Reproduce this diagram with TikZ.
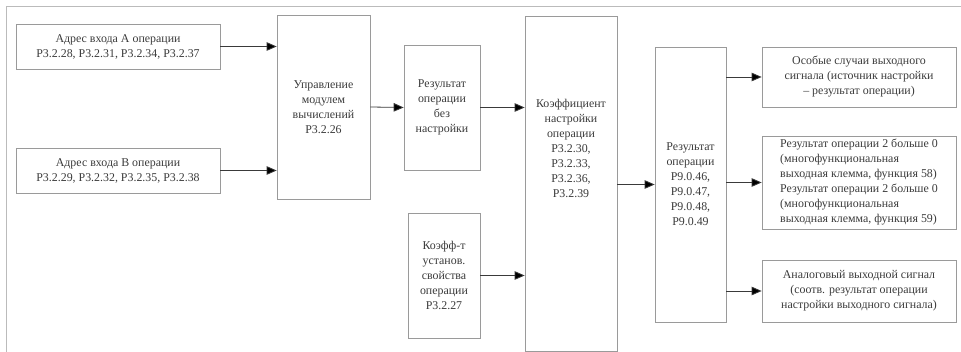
\documentclass[tikz,border=0pt]{standalone}
\usepackage{fontspec}
\setmainfont{Liberation Serif}
\usepackage{xcolor}
\usepackage{tikz}
\usetikzlibrary{arrows.meta,calc}
\definecolor{boxgray}{HTML}{9A9A9A}
\definecolor{framegray}{HTML}{BBBBBB}
\definecolor{inkgray}{HTML}{3A3A3A}

\begin{document}
\begin{tikzpicture}[x=1pt,y=-1pt,
    font=\rmfamily\fontsize{11.9}{15}\selectfont,
    blk/.style={draw=boxgray, line width=0.7pt, inner sep=0pt, align=center, text=inkgray},
    arr/.style={-{Triangle[length=10pt,width=8.5pt,fill=black]}, draw=inkgray, line width=0.8pt}]
        \useasboundingbox (0,0) rectangle (961,352);
        \draw[framegray, line width=0.8pt] (6,352) -- (6,6) -- (961,6);
        % inputs
        \node[blk, minimum width=204, minimum height=45] (inA) at (118,46.5)
            {Адрес входа А операции\\P3.2.28, P3.2.31, P3.2.34, P3.2.37};
        \node[blk, minimum width=204, minimum height=45] (inB) at (118,170.5)
            {Адрес входа В операции\\P3.2.29, P3.2.32, P3.2.35, P3.2.38};
        \node[blk, minimum width=93, minimum height=184] (ctrl) at (323.5,107)
            {Управление\\модулем\\вычислений\\P3.2.26};
        \node[blk, minimum width=76, minimum height=125] (raw) at (442,107.5)
            {Результат\\операции\\без\\настройки};
        \node[blk, minimum width=72, minimum height=125] (prop) at (444,275.5)
            {Коэфф-т\\установ.\\свойства\\операции\\P3.2.27};
        \node[blk, minimum width=92, minimum height=335] (coef) at (571,183.5) {};
        \node[align=center, text=inkgray] at ($(coef.center)+(0,-35)$)
            {Коэффициент\\настройки\\операции\\P3.2.30,\\P3.2.33,\\P3.2.36,\\P3.2.39};
        \node[blk, minimum width=71, minimum height=275] (res) at (690.5,184.5)
            {Результат\\операции\\P9.0.46,\\P9.0.47,\\P9.0.48,\\P9.0.49};
        % outputs
        \node[blk, minimum width=194, minimum height=60] (outA) at (859,77)
            {Особые случаи выходного\\сигнала (источник настройки\\– результат операции)};
        \node[blk, minimum width=194, minimum height=93, align=left] (outB) at (859,182.5)
            {Результат операции 2 больше 0\\(многофункциональная\\выходная клемма, функция 58)\\Результат операции 2 больше 0\\(многофункциональная\\выходная клемма, функция 59)};
        \node[blk, minimum width=194, minimum height=62] (outC) at (859,291)
            {Аналоговый выходной сигнал\\(соотв. результат операции\\настройки выходного сигнала)};
        % connectors
        \draw[arr] (inA.east) -- (inA.east -| ctrl.west);
        \draw[arr] (inB.east) -- (inB.east -| ctrl.west);
        \draw[arr] (ctrl.east) -- (raw.west);
        \draw[arr] (raw.east) -- (raw.east -| coef.west);
        \draw[arr] (prop.east) -- (prop.east -| coef.west);
        \draw[arr] (coef.east |- res.west) -- (res.west);
        \draw[arr] (res.east |- outA.west) -- (outA.west);
        \draw[arr] (res.east |- outB.west) -- (outB.west);
        \draw[arr] (res.east |- outC.west) -- (outC.west);
\end{tikzpicture}
\end{document}
